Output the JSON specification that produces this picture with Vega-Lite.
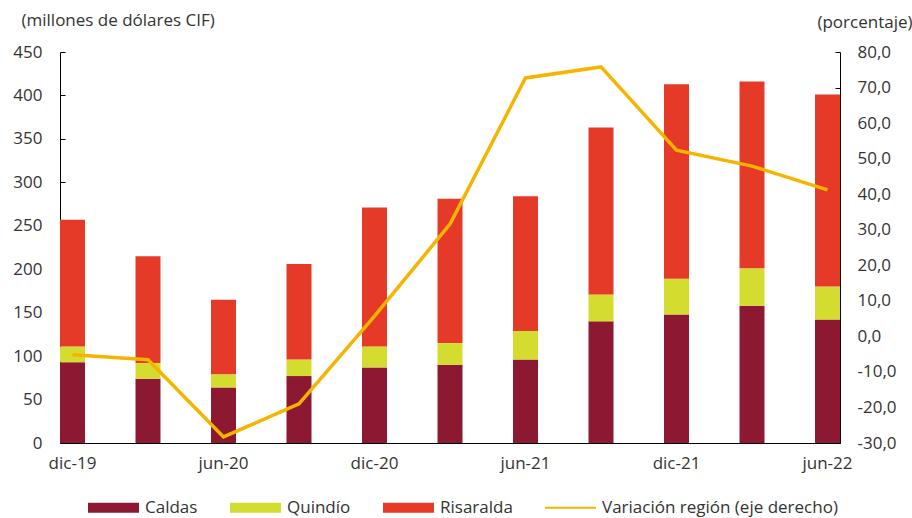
{
  "$schema": "https://vega.github.io/schema/vega-lite/v6.json",
  "width": 780,
  "height": 391,
  "autosize": {"type": "none"},
  "padding": {"left": 60, "top": 52, "right": 72, "bottom": 75},
  "background": "white",
  "config": {
    "view": {"stroke": null},
    "font": "Open Sans",
    "axis": {"labelFont": "Open Sans", "labelFontSize": 17, "labelColor": "#333333", "domainColor": "#000000", "tickColor": "#000000", "grid": false},
    "legend": {"labelFont": "Open Sans", "labelFontSize": 17, "labelColor": "#333333", "labelLimit": 0}
  },
  "datasets": {
    "bars": [
      {"q": "dic-19", "dep": "Caldas", "v": 93}, {"q": "dic-19", "dep": "Quindío", "v": 18}, {"q": "dic-19", "dep": "Risaralda", "v": 146},
      {"q": "mar-20", "dep": "Caldas", "v": 74}, {"q": "mar-20", "dep": "Quindío", "v": 18}, {"q": "mar-20", "dep": "Risaralda", "v": 123},
      {"q": "jun-20", "dep": "Caldas", "v": 64}, {"q": "jun-20", "dep": "Quindío", "v": 15}, {"q": "jun-20", "dep": "Risaralda", "v": 86},
      {"q": "sep-20", "dep": "Caldas", "v": 77}, {"q": "sep-20", "dep": "Quindío", "v": 19}, {"q": "sep-20", "dep": "Risaralda", "v": 110},
      {"q": "dic-20", "dep": "Caldas", "v": 87}, {"q": "dic-20", "dep": "Quindío", "v": 24}, {"q": "dic-20", "dep": "Risaralda", "v": 160},
      {"q": "mar-21", "dep": "Caldas", "v": 90}, {"q": "mar-21", "dep": "Quindío", "v": 25}, {"q": "mar-21", "dep": "Risaralda", "v": 166},
      {"q": "jun-21", "dep": "Caldas", "v": 96}, {"q": "jun-21", "dep": "Quindío", "v": 33}, {"q": "jun-21", "dep": "Risaralda", "v": 155},
      {"q": "sep-21", "dep": "Caldas", "v": 140}, {"q": "sep-21", "dep": "Quindío", "v": 31}, {"q": "sep-21", "dep": "Risaralda", "v": 192},
      {"q": "dic-21", "dep": "Caldas", "v": 148}, {"q": "dic-21", "dep": "Quindío", "v": 41}, {"q": "dic-21", "dep": "Risaralda", "v": 224},
      {"q": "mar-22", "dep": "Caldas", "v": 158}, {"q": "mar-22", "dep": "Quindío", "v": 43}, {"q": "mar-22", "dep": "Risaralda", "v": 215},
      {"q": "jun-22", "dep": "Caldas", "v": 142}, {"q": "jun-22", "dep": "Quindío", "v": 38}, {"q": "jun-22", "dep": "Risaralda", "v": 221}
    ],
    "line": [
      {"q": "dic-19", "var": -5.2},
      {"q": "mar-20", "var": -6.6},
      {"q": "jun-20", "var": -28.3},
      {"q": "sep-20", "var": -19.0},
      {"q": "dic-20", "var": 5.7},
      {"q": "mar-21", "var": 31.6},
      {"q": "jun-21", "var": 72.7},
      {"q": "sep-21", "var": 75.8},
      {"q": "dic-21", "var": 52.4},
      {"q": "mar-22", "var": 47.9},
      {"q": "jun-22", "var": 41.2}
    ]
  },
  "encoding": {
    "x": {
      "field": "q", "type": "nominal", "sort": null,
      "scale": {"paddingInner": 0.669, "paddingOuter": 0},
      "axis": {
        "title": null, "labelAngle": 0, "ticks": false, "labelPadding": 12,
        "labelExpr": "(substring(datum.label,0,3)=='mar' || substring(datum.label,0,3)=='sep') ? '' : datum.label"
      }
    }
  },
  "layer": [
    {
      "data": {"name": "bars"},
      "mark": {"type": "bar"},
      "encoding": {
        "y": {
          "field": "v", "type": "quantitative", "stack": "zero",
          "scale": {"domain": [0, 450], "nice": false},
          "axis": {
            "values": [0, 50, 100, 150, 200, 250, 300, 350, 400, 450],
            "tickSize": -5, "labelPadding": 23,
            "title": "(millones de dólares CIF)", "titleAngle": 0, "titleX": -39, "titleY": -32,
            "titleAlign": "left", "titleBaseline": "middle", "titleFont": "Open Sans", "titleFontSize": 17, "titleFontWeight": "normal", "titleColor": "#333333"
          }
        },
        "order": {"field": "dep", "sort": "ascending"},
        "color": {
          "field": "dep", "type": "nominal",
          "scale": {"domain": ["Caldas", "Quindío", "Risaralda", "Variación región (eje derecho)"], "range": ["#8C1832", "#D4DC30", "#E63A28", "#F5B400"]},
          "legend": {
            "title": null, "orient": "none", "direction": "horizontal", "legendX": 28, "legendY": 430,
            "symbolType": "M-1,-0.2H1V0.2H-1Z", "symbolSize": 2600, "symbolStrokeWidth": 0,
            "labelOffset": 6, "columnPadding": 32,
            "encode": {
              "symbols": {
                "update": {
                  "shape": {"signal": "datum.value == 'Variación región (eje derecho)' ? 'M-1,-0.04H1V0.04H-1Z' : 'M-1,-0.2H1V0.2H-1Z'"},
                  "fill": {"scale": "color", "field": "value"},
                  "strokeWidth": {"value": 0},
                  "opacity": {"value": 1}
                }
              }
            }
          }
        }
      }
    },
    {
      "data": {"name": "line"},
      "mark": {"type": "line", "strokeWidth": 3.5},
      "encoding": {
        "y": {
          "field": "var", "type": "quantitative",
          "scale": {"domain": [-30, 80], "nice": false},
          "axis": {
            "orient": "right",
            "values": [-30, -20, -10, 0, 10, 20, 30, 40, 50, 60, 70, 80],
            "labelExpr": "(datum.value < 0 ? '-' : '') + replace(format(abs(datum.value), '.1f'), '.', ',')",
            "tickSize": -5, "labelPadding": 22,
            "title": "(porcentaje)", "titleAngle": 0, "titleX": 72, "titleY": -30,
            "titleAlign": "right", "titleBaseline": "middle", "titleFont": "Open Sans", "titleFontSize": 17, "titleFontWeight": "normal", "titleColor": "#333333"
          }
        },
        "color": {"datum": "Variación región (eje derecho)"}
      }
    }
  ],
  "resolve": {"scale": {"y": "independent"}}
}
